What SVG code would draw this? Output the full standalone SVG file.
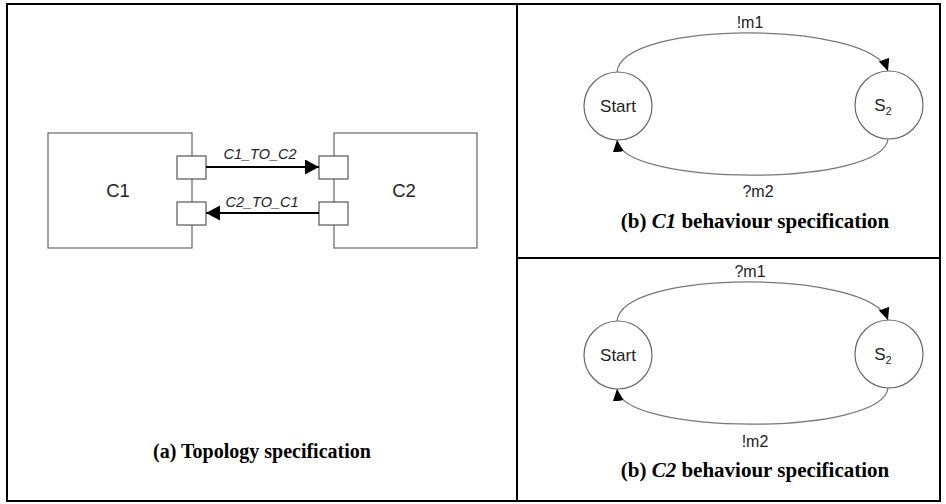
<svg xmlns="http://www.w3.org/2000/svg" width="946" height="504" viewBox="0 0 946 504">
<style>
.frame{fill:none;stroke:#000;stroke-width:2}
.box{fill:#fff;stroke:#666;stroke-width:1.2}
.port{fill:#fff;stroke:#555;stroke-width:1.2}
.st{fill:#fff;stroke:#666;stroke-width:1.2}
.lbl{font-family:"Liberation Sans",Arial,sans-serif;fill:#222}
.cap{font-family:"Liberation Serif","Times New Roman",serif;font-weight:bold;fill:#000}
.conn{fill:none;stroke:#000;stroke-width:2}
.arc{fill:none;stroke:#777;stroke-width:1.3}
</style>
<defs>
<marker id="bigArrow" markerUnits="userSpaceOnUse" markerWidth="16" markerHeight="16" refX="14" refY="7.5" orient="auto"><path d="M0,0 L14,7.5 L0,15 z" fill="#000"/></marker>
<marker id="smallArrow" markerUnits="userSpaceOnUse" markerWidth="14" markerHeight="14" refX="12" refY="5.5" orient="auto"><path d="M0,0 L12,5.5 L0,11 z" fill="#000"/></marker>
</defs>
<rect width="946" height="504" fill="#fff"/>
<g id="frame">
<rect class="frame" x="7" y="4" width="933" height="497"/>
<line class="frame" x1="517" y1="4" x2="517" y2="501"/>
<line class="frame" x1="517" y1="258" x2="940" y2="258"/>
</g>
<g id="C1">
<rect class="box" x="48" y="133" width="144" height="115"/>
<text class="lbl" x="118" y="197" font-size="18.5" text-anchor="middle">C1</text>
<rect class="port" x="177" y="156" width="29" height="23"/>
<rect class="port" x="177" y="202" width="29" height="23"/>
</g>
<g id="C2">
<rect class="box" x="334" y="133" width="143" height="115"/>
<text class="lbl" x="404" y="197" font-size="18.5" text-anchor="middle">C2</text>
<rect class="port" x="319" y="156" width="29" height="23"/>
<rect class="port" x="319" y="202" width="29" height="23"/>
</g>
<g id="topology-connectors">
<line class="conn" x1="206" y1="167" x2="319" y2="167" marker-end="url(#bigArrow)"/>
<line class="conn" x1="319" y1="213" x2="206" y2="213" marker-end="url(#bigArrow)"/>
<text class="lbl" x="260" y="159" font-size="14.5" font-style="italic" text-anchor="middle">C1_TO_C2</text>
<text class="lbl" x="262" y="207" font-size="14.5" font-style="italic" text-anchor="middle">C2_TO_C1</text>
</g>
<text class="cap" x="262" y="458" font-size="20" text-anchor="middle">(a) Topology specification</text>

<g id="b1-start">
<circle class="st" cx="618" cy="106" r="34"/>
<text class="lbl" x="618" y="112" font-size="17" text-anchor="middle">Start</text>
</g>
<g id="b1-s2">
<circle class="st" cx="889" cy="105" r="34"/>
<text class="lbl" x="883" y="111" font-size="17" text-anchor="middle">S<tspan font-size="11" dy="4">2</tspan></text>
</g>
<g id="b1-connectors">
<path class="arc" d="M617,72 C622,20 870,20 888,71" marker-end="url(#smallArrow)"/>
<path class="arc" d="M888,139 C883,187 622,187 617,140" marker-end="url(#smallArrow)"/>
<text class="lbl" x="750" y="28" font-size="16" text-anchor="middle">!m1</text>
<text class="lbl" x="758" y="197" font-size="16" text-anchor="middle">?m2</text>
</g>
<text class="cap" x="755" y="228" font-size="21" text-anchor="middle">(b) <tspan font-style="italic">C1</tspan> behaviour specification</text>

<g id="b2-start">
<circle class="st" cx="618" cy="355" r="34"/>
<text class="lbl" x="618" y="361" font-size="17" text-anchor="middle">Start</text>
</g>
<g id="b2-s2">
<circle class="st" cx="889" cy="354" r="34"/>
<text class="lbl" x="883" y="360" font-size="17" text-anchor="middle">S<tspan font-size="11" dy="4">2</tspan></text>
</g>
<g id="b2-connectors">
<path class="arc" d="M617,321 C622,269 870,269 888,320" marker-end="url(#smallArrow)"/>
<path class="arc" d="M888,388 C883,436 622,436 617,389" marker-end="url(#smallArrow)"/>
<text class="lbl" x="750" y="277" font-size="16" text-anchor="middle">?m1</text>
<text class="lbl" x="755" y="447" font-size="16" text-anchor="middle">!m2</text>
</g>
<text class="cap" x="755" y="477" font-size="21" text-anchor="middle">(b) <tspan font-style="italic">C2</tspan> behaviour specification</text>
</svg>
